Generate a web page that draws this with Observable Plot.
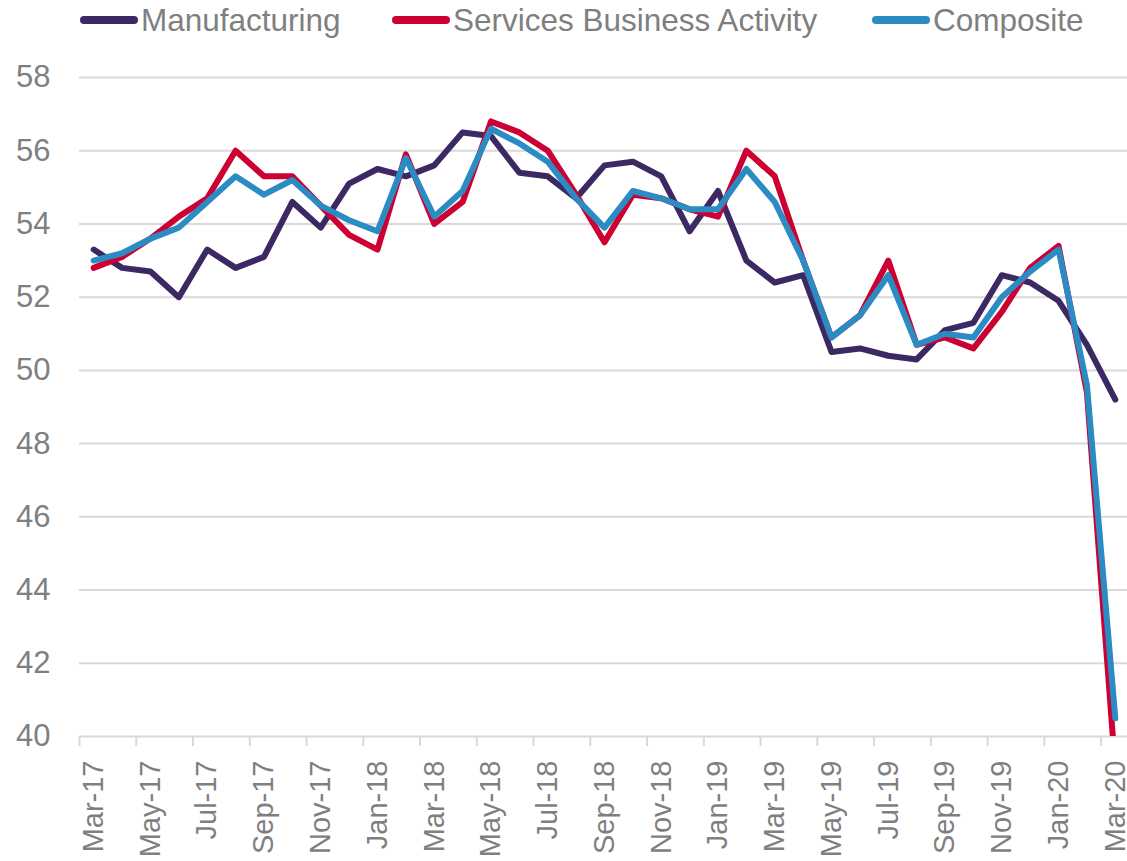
<!DOCTYPE html>
<html><head><meta charset="utf-8">
<script src="https://cdn.jsdelivr.net/npm/d3@7"></script>
<script src="https://cdn.jsdelivr.net/npm/@observablehq/plot@0.6"></script>
<style>
body{margin:0;background:#fff;font-family:"Liberation Sans",Arial,sans-serif;}
#legend{position:relative;height:40px;width:1127px;}
.item{position:absolute;top:0;height:40px;display:flex;align-items:center;color:#7f7f7f;font-size:31.5px;white-space:nowrap;}
.sw{display:inline-block;width:58px;height:8px;border-radius:4px;margin-right:3px;}
</style></head><body>
<div id="legend"></div>
<div id="chart"></div>
<script>
const months = ["Mar-17","Apr-17","May-17","Jun-17","Jul-17","Aug-17","Sep-17","Oct-17","Nov-17","Dec-17",
  "Jan-18","Feb-18","Mar-18","Apr-18","May-18","Jun-18","Jul-18","Aug-18","Sep-18","Oct-18","Nov-18","Dec-18",
  "Jan-19","Feb-19","Mar-19","Apr-19","May-19","Jun-19","Jul-19","Aug-19","Sep-19","Oct-19","Nov-19","Dec-19",
  "Jan-20","Feb-20","Mar-20"];
const manufacturing = [53.3,52.8,52.7,52.0,53.3,52.8,53.1,54.6,53.9,55.1,55.5,55.3,55.6,56.5,56.4,55.4,55.3,54.7,55.6,55.7,55.3,53.8,54.9,53.0,52.4,52.6,50.5,50.6,50.4,50.3,51.1,51.3,52.6,52.4,51.9,50.7,49.2];
const services = [52.8,53.1,53.6,54.2,54.7,56.0,55.3,55.3,54.5,53.7,53.3,55.9,54.0,54.6,56.8,56.5,56.0,54.8,53.5,54.8,54.7,54.4,54.2,56.0,55.3,53.0,50.9,51.5,53.0,50.7,50.9,50.6,51.6,52.8,53.4,49.4,39.1];
const composite = [53.0,53.2,53.6,53.9,54.6,55.3,54.8,55.2,54.5,54.1,53.8,55.8,54.2,54.9,56.6,56.2,55.7,54.7,53.9,54.9,54.7,54.4,54.4,55.5,54.6,53.0,50.9,51.5,52.6,50.7,51.0,50.9,52.0,52.7,53.3,49.6,40.5];
const seriesNames = ["Manufacturing","Services Business Activity","Composite"];
const seriesColors = ["#3c2862","#cc0033","#2b8bc3"];
const yTicks = [40,42,44,46,48,50,52,54,56,58];

const seriesValues = [manufacturing, services, composite];
const tables = seriesValues.map(vals => vals.map((v, i) => ({i, v})));

// legend
const legendLeft = [80, 392, 872];
const legend = document.getElementById("legend");
seriesNames.forEach((name, k) => {
  const it = document.createElement("div");
  it.className = "item";
  it.style.left = legendLeft[k] + "px";
  const sw = document.createElement("span");
  sw.className = "sw";
  sw.style.background = seriesColors[k];
  it.appendChild(sw);
  it.appendChild(document.createTextNode(name));
  legend.appendChild(it);
});

const chart = Plot.plot({
  width: 1127, height: 821,
  marginTop: 37, marginBottom: 125, marginLeft: 79, marginRight: 0,
  style: {fontFamily: "'Liberation Sans', Arial, sans-serif", fontSize: "29px", color: "#7f7f7f", background: "#fff"},
  x: {domain: [-0.5, 36.5], range: [79, 1129], label: null},
  y: {domain: [40, 58], label: null},
  marks: [
    Plot.gridY({ticks: yTicks, stroke: "#d9d9d9", strokeOpacity: 1, strokeWidth: 2}),
    Plot.axisY({ticks: yTicks, tickSize: 0, tickPadding: 29, fontSize: 31, label: null}),
    Plot.axisX({ticks: d3.range(-0.5, 36, 2), tickFormat: () => "", tickSize: 10, stroke: "#d9d9d9", strokeWidth: 2, strokeOpacity: 1, label: null}),
    Plot.axisX({ticks: d3.range(0, 37, 2), tickFormat: i => months[i], tickSize: 0, tickRotate: -90, tickPadding: 24, fontSize: 29, label: null}),
    ...tables.map((t, k) => Plot.lineY(t, {x: "i", y: "v", stroke: seriesColors[k], strokeWidth: 6, strokeLinejoin: "round", strokeLinecap: "round", clip: true}))
  ]
});
document.getElementById("chart").appendChild(chart);
</script>
</body></html>
